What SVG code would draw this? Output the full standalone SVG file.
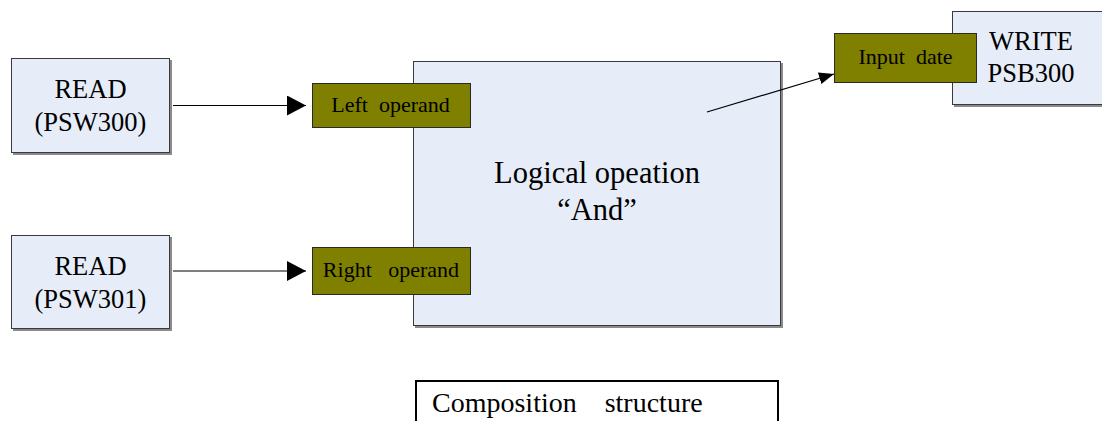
<svg xmlns="http://www.w3.org/2000/svg" width="1102" height="421" viewBox="0 0 1102 421">
<style>
.box{fill:#E6EDF8;stroke:#3a3a3a;stroke-width:1}
.shadow{fill:#8a8a8a}
.op{fill:#808000;stroke:#2a2a2a;stroke-width:1}
text{font-family:'Liberation Serif','Times New Roman',serif;fill:#000;white-space:pre}
.big{font-size:26.5px;text-anchor:middle}
.mid{font-size:30.5px;text-anchor:middle}
.sm{font-size:22px;text-anchor:middle}
.conn{stroke:#000;stroke-width:1.2;fill:none}
</style>
<defs>
<marker id="ah" markerUnits="userSpaceOnUse" markerWidth="20" markerHeight="22" refX="19" refY="10" orient="auto">
<path d="M0,0 L19,10 L0,20 Z" fill="#000"/>
</marker>
<marker id="ahs" markerUnits="userSpaceOnUse" markerWidth="16" markerHeight="14" refX="15" refY="6" orient="auto">
<path d="M0,0 L15,6 L0,12 Z" fill="#000"/>
</marker>
</defs>
<rect width="1102" height="421" fill="#fff"/>

<g id="read1">
<rect class="shadow" x="13" y="60" width="159" height="95"/>
<rect class="box" x="11.5" y="58.5" width="158" height="94"/>
<text class="big" x="90.5" y="98">READ</text>
<text class="big" x="90.5" y="131">(PSW300)</text>
</g>

<g id="read2">
<rect class="shadow" x="13" y="237" width="159" height="94"/>
<rect class="box" x="11.5" y="235.5" width="158" height="93"/>
<text class="big" x="90.5" y="275">READ</text>
<text class="big" x="90.5" y="308">(PSW301)</text>
</g>

<g id="logic">
<rect class="shadow" x="415" y="63" width="368" height="265"/>
<rect class="box" x="413.5" y="61.5" width="367" height="264"/>
<text class="mid" x="597" y="183">Logical opeation</text>
<text class="mid" x="597" y="220">“And”</text>
</g>

<g id="write">
<rect class="shadow" x="954" y="13" width="150" height="94"/>
<rect class="box" x="952.5" y="11.5" width="152" height="93"/>
<text class="big" x="1031" y="50">WRITE</text>
<text class="big" x="1031" y="82">PSB300</text>
</g>

<g id="left-operand">
<rect class="op" x="312.5" y="83.5" width="158" height="44"/>
<text class="sm" x="390.5" y="112">Left  operand</text>
</g>

<g id="right-operand">
<rect class="op" x="312.5" y="247.5" width="158" height="47"/>
<text class="sm" x="391" y="277">Right   operand</text>
</g>

<g id="input-date">
<rect class="op" x="834.5" y="33.5" width="142" height="49"/>
<text class="sm" x="905.5" y="64">Input  date</text>
</g>

<g id="composition">
<rect x="416" y="381" width="362" height="60" fill="#fff" stroke="#000" stroke-width="2"/>
<text x="432" y="411.5" font-size="28">Composition    structure</text>
</g>

<g id="connectors">
<line class="conn" x1="173" y1="105.5" x2="306" y2="105.5" marker-end="url(#ah)"/>
<line class="conn" x1="173" y1="271" x2="306" y2="271" marker-end="url(#ah)"/>
<line class="conn" x1="707" y1="112" x2="834" y2="74" marker-end="url(#ahs)"/>
</g>
</svg>
